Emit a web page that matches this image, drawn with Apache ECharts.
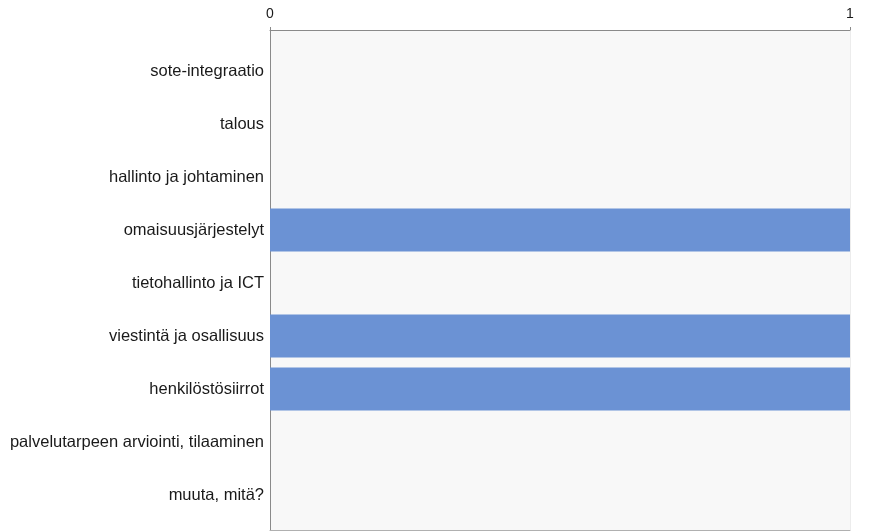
<!DOCTYPE html>
<html>
<head>
<meta charset="utf-8">
<script src="https://cdn.jsdelivr.net/npm/echarts@6/dist/echarts.min.js"></script>
<style>
html,body{margin:0;padding:0;background:#fff;}
#chart{width:869px;height:531px;}
</style>
</head>
<body>
<div id="chart"></div>
<script>
var categories = ["sote-integraatio","talous","hallinto ja johtaminen","omaisuusjärjestelyt","tietohallinto ja ICT","viestintä ja osallisuus","henkilöstösiirrot","palvelutarpeen arviointi, tilaaminen","muuta, mitä?"];
var values = [0,0,0,1,0,1,1,0,0];
var axisMin = 0, axisMax = 1, axisInterval = 1;

var chart = echarts.init(document.getElementById('chart'));
chart.setOption({
  animation:false,
  backgroundColor:'#ffffff',
  textStyle:{fontFamily:'Liberation Sans, Arial, sans-serif'},
  grid:[
    {left:270,right:19,top:30,bottom:1,show:true,backgroundColor:'#f8f8f8',borderWidth:0},
    {left:270,right:19,top:44.5,height:477,show:false}
  ],
  xAxis:[
    {gridIndex:0,type:'value',position:'top',min:axisMin,max:axisMax,interval:axisInterval,
     axisLine:{show:true,onZero:false,lineStyle:{color:'#8a8a8a',width:1}},
     axisTick:{show:true,length:3,lineStyle:{color:'#8a8a8a'}},
     axisLabel:{show:true,color:'#1a1a1a',fontSize:14,margin:9},
     splitLine:{show:true,lineStyle:{color:'#ececec'}}},
    {gridIndex:0,type:'value',position:'bottom',min:axisMin,max:axisMax,
     axisLine:{show:true,onZero:false,lineStyle:{color:'#b0b0b0',width:1}},
     axisTick:{show:false},axisLabel:{show:false},splitLine:{show:false}},
    {gridIndex:1,type:'value',min:axisMin,max:axisMax,show:false}
  ],
  yAxis:[
    {gridIndex:0,type:'value',min:0,max:1,
     axisLine:{show:true,onZero:false,lineStyle:{color:'#8a8a8a',width:1}},
     axisTick:{show:false},axisLabel:{show:false},splitLine:{show:false}},
    {gridIndex:1,type:'category',inverse:true,data:categories,
     axisLine:{show:false},axisTick:{show:false},
     axisLabel:{color:'#1a1a1a',fontSize:16.5,margin:6}}
  ],
  series:[
    {type:'bar',xAxisIndex:2,yAxisIndex:1,data:values,barWidth:43,
     itemStyle:{color:'#6b92d4'},silent:true}
  ]
});
</script>
</body>
</html>
